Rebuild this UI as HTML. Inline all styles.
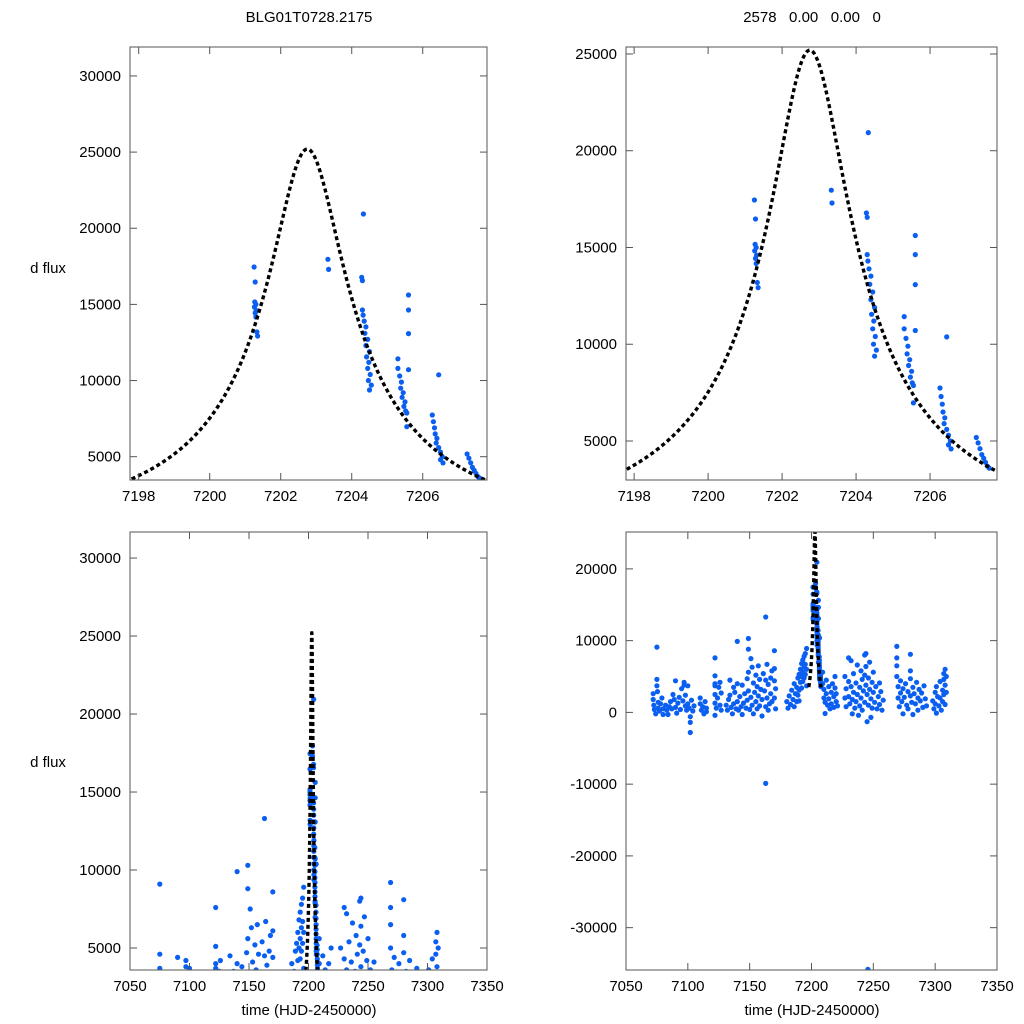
<!DOCTYPE html>
<html><head><meta charset="utf-8"><style>
html,body{margin:0;padding:0;background:#fff;width:1024px;height:1024px;overflow:hidden;position:relative;}
svg{position:absolute;left:0;top:0;overflow:hidden;font-family:"Liberation Sans",Arial,sans-serif;}
</style></head><body>
<svg id="chart" width="1024" height="1024" viewBox="0 0 1024 1024">
<text x="309" y="22" text-anchor="middle" font-size="15">BLG01T0728.2175</text>
<text x="812" y="22" text-anchor="middle" font-size="15" xml:space="preserve">2578   0.00   0.00   0</text>
<text x="48" y="273" text-anchor="middle" font-size="15">d flux</text>
<text x="48" y="767" text-anchor="middle" font-size="15">d flux</text>
<text x="309" y="1015" text-anchor="middle" font-size="15">time (HJD-2450000)</text>
<text x="812" y="1015" text-anchor="middle" font-size="15">time (HJD-2450000)</text>
</svg>
<script>
// ---- data ----
const peakObs = [
[7201.25,17455],[7201.28,16470],[7201.27,15160],[7201.3,15000],[7201.26,14830],[7201.31,14600],[7201.28,14435],[7201.3,14170],[7201.33,13190],[7201.35,12925],
[7203.33,17960],[7203.35,17300],
[7204.33,20935],[7204.28,16780],[7204.3,16560],[7204.3,14630],[7204.32,14300],[7204.35,13900],[7204.4,13520],[7204.37,13100],[7204.45,12700],[7204.4,12300],[7204.5,11900],[7204.42,11550],[7204.48,11200],[7204.45,10800],[7204.52,10400],[7204.47,10000],[7204.55,9700],[7204.5,9380],
[7205.3,11430],[7205.3,10800],[7205.35,10300],[7205.4,9900],[7205.38,9500],[7205.45,9200],[7205.42,8900],[7205.5,8600],[7205.47,8300],[7205.52,8000],[7205.55,7870],[7205.55,6970],
[7205.6,15620],[7205.6,14630],[7205.6,13080],[7205.6,10710],
[7206.45,10380],[7206.27,7740],[7206.3,7300],[7206.33,6900],[7206.35,6500],[7206.4,6200],[7206.38,5900],[7206.45,5600],[7206.5,5300],[7206.55,5000],[7206.5,4800],[7206.57,4590],
[7207.25,5180],[7207.3,4900],[7207.35,4600],[7207.4,4300],[7207.45,4100],[7207.5,3900],[7207.55,3700],[7207.6,3600]
];
const earlyObs = [
[7072,2600],[7072,1800],[7072.5,1000],[7073,400],[7074,-200],[7075,9100],[7075,4600],[7075,3700],[7075.5,2900],[7076,1400],[7076,600],[7077,200],[7078,1200],[7079,2000],[7080,500],[7080,-300],
[7082,1000],[7083,300],[7084,-300],[7085,800],[7086,1500],[7087,500],[7088,2500],[7089,1800],[7090,4400],[7090,700],[7091,-100],[7092,1300],[7093,2100],[7094,400],[7095,3300],[7096,1600],[7097,4200],[7097,3800],[7098,2400],[7098,900],[7099,300],[7100,1200],[7100,3700],[7101,600],[7102,-1400],[7102,-2800],[7102,-600],[7103,1700],[7104,200],[7105,900],
[7110,2000],[7110,1200],[7111,300],[7112,800],[7113,-200],[7114,1500],[7115,600],[7115,100],
[7122,7600],[7122,5100],[7122,4000],[7122,3700],[7122,2500],[7122,1300],[7122,-400],[7123,600],[7124,2000],[7125,3500],[7126,4200],[7126,1000],[7127,300],[7127,2700],
[7131,1000],[7132,300],[7133,1800],[7134,4500],[7134,2400],[7135,700],[7136,-200],[7137,3500],[7137,1200],[7138,2800],[7139,500],[7140,9900],[7140,4000],[7140,1500],[7141,300],[7142,2200],[7143,800],[7144,3800],[7144,-300],[7145,1300],[7146,2600],[7147,600],[7148,4700],[7148,1700],[7149,10300],[7149,8800],[7149,5600],[7149,3000],[7150,400],[7151,7500],[7151,2100],[7152,6300],[7152,1000],[7153,4100],[7153,-200],[7154,2800],[7155,5200],[7155,1500],[7156,3600],[7156,500],[7157,6500],[7157,2300],[7158,4600],[7158,900],[7159,3200],[7160,-500],[7160,1800],[7161,5400],[7162,3000],[7163,13300],[7163,4500],[7163,800],[7163,-9900],[7164,6700],[7164,2000],[7165,3900],[7165,300],[7166,1200],[7167,4800],[7167,2600],[7168,5800],[7168,1500],[7170,8600],[7170,4400],[7170,6100],[7170,2000],[7171,3300],[7171,500],
[7180,1500],[7181,600],[7182,2300],[7183,1100],[7184,3100],[7185,1800],[7186,4000],[7186,800],[7187,2600],[7188,3500],[7188,1500],[7189,4800],[7189,2400],[7190,5300],[7190,3100],[7190,1600],[7191,6000],[7191,4200],[7192,6800],[7192,5000],[7192,3400],[7193,7300],[7193,5600],[7193,4300],[7194,7800],[7194,6300],[7194,4800],[7195,8200],[7195,6700],[7195,5300],[7196,8900],[7196,6000],[7196,3700]
];
const lateObs = [
[7209,5600],[7209,4000],[7210,3200],[7210,2000],[7211,1400],[7211,-150],[7212,4500],[7212,2600],[7213,1000],[7214,3600],[7214,1900],[7215,500],[7216,2800],[7216,1200],[7217,4000],[7218,2200],[7218,700],[7219,5000],[7219,3400],[7220,1500],[7220,2600],[7221,900],
[7227,2000],[7227,5000],[7228,3300],[7228,800],[7230,7600],[7230,4300],[7230,2200],[7231,1200],[7232,7200],[7232,3600],[7233,-200],[7233,1800],[7234,5400],[7234,2800],[7235,600],[7236,4100],[7236,1500],[7237,6600],[7237,2500],[7238,-400],[7239,3500],[7239,900],[7240,5800],[7240,2000],[7241,4600],[7241,300],[7242,3000],[7243,8000],[7243,5200],[7243,1400],[7244,8200],[7244,6400],[7244,3800],[7245,2500],[7245,-1300],[7245.6,-35800],[7246,4800],[7246,1000],[7247,7000],[7247,3200],[7248,1900],[7248,-700],[7249,4200],[7249,600],[7250,5600],[7250,2800],[7251,1400],[7252,3600],[7253,500],[7254,2200],[7255,4100],[7255,1100],[7256,2900],[7257,300],[7258,1700],
[7269,9200],[7269,7600],[7269,6500],[7269,5000],[7270,3600],[7270,2000],[7271,800],[7272,4400],[7272,2700],[7273,1500],[7274,3300],[7274,-200],[7275,2100],[7276,4000],[7277,1000],[7278,2900],[7278,500],[7280,8100],[7280,5800],[7280,4700],[7280,2300],[7281,1400],[7282,3500],[7282,-300],[7283,2600],[7284,1200],[7285,4200],[7286,2000],[7286,300],[7287,3200],[7288,1600],[7289,2700],[7290,700],[7291,3700],[7292,1900],[7293,900],
[7298,1600],[7299,500],[7300,2800],[7300,1200],[7301,3600],[7301,-100],[7302,2200],[7303,900],[7304,4300],[7304,2000],[7305,300],[7306,3100],[7306,1500],[7307,5400],[7307,4600],[7307,2500],[7308,6000],[7308,3800],[7308,1100],[7309,5000],[7309,2800]
];
const modelParams = [7202.75, 0.1, 10.6, 2788]; // t0, u0, tE, source flux
const topXTicks = [7198,7200,7202,7204,7206];
const botXTicks = [7050,7100,7150,7200,7250,7300,7350];
const tlYTicks = [5000,10000,15000,20000,25000,30000];
const trYTicks = [5000,10000,15000,20000,25000];
const blYTicks = [5000,10000,15000,20000,25000,30000];
const brYTicks = [-30000,-20000,-10000,0,10000,20000];

// ---- drawing ----
const NS = "http://www.w3.org/2000/svg";
const svg = document.getElementById('chart');
function mk(tag, attrs, parent){ const e=document.createElementNS(NS,tag); for(const k in attrs) e.setAttribute(k,attrs[k]); (parent||svg).appendChild(e); return e; }
function model(t){
  const [t0,u0,tE,fs]=modelParams;
  const x=(t-t0)/tE, u=Math.sqrt(u0*u0+x*x);
  const A=(u*u+2)/(u*Math.sqrt(u*u+4));
  return fs*(A-1);
}
const panels = [
 {id:'top-left', x0:130,x1:487,y0:47,y1:480, tmin:7197.755,tmax:7207.81, vmin:3470,vmax:31900, xt:topXTicks, yt:tlYTicks},
 {id:'top-right', x0:626,x1:997,y0:47,y1:480, tmin:7197.78,tmax:7207.81, vmin:2985,vmax:25360, xt:topXTicks, yt:trYTicks},
 {id:'bottom-left', x0:130,x1:487,y0:532,y1:970, tmin:7050,tmax:7350, vmin:3590,vmax:31670, xt:botXTicks, yt:blYTicks},
 {id:'bottom-right', x0:626,x1:997,y0:532,y1:970, tmin:7050,tmax:7350, vmin:-35900,vmax:25140, xt:botXTicks, yt:brYTicks}
];
const allObs = earlyObs.concat(peakObs, lateObs);
panels.forEach(p=>{
  const sx=t=>p.x0+(t-p.tmin)/(p.tmax-p.tmin)*(p.x1-p.x0);
  const sy=v=>p.y1-(v-p.vmin)/(p.vmax-p.vmin)*(p.y1-p.y0);
  const g=mk('g',{});
  
  
  const cp=mk('clipPath',{id:'clip-'+p.id},g);
  mk('rect',{x:p.x0,y:p.y0,width:p.x1-p.x0,height:p.y1-p.y0},cp);
  const pts=mk('g',{'clip-path':'url(#clip-'+p.id+')'},g);
  
  
  allObs.forEach(o=>{
    if(o[0]<p.tmin||o[0]>p.tmax) return;
    const c=mk('circle',{cx:sx(o[0]).toFixed(1),cy:sy(o[1]).toFixed(1),r:2.6,fill:'#0a5ef0'},pts);
    
    
  });
  let d='';
  const ta=Math.max(p.tmin,7197.8), tb=Math.min(p.tmax,7207.75);
  for(let i=0;i<=600;i++){ const t=ta+(tb-ta)*i/600; d+=(i?'L':'M')+sx(t).toFixed(2)+' '+sy(model(t)).toFixed(2); }
  const curve=mk('path',{d:d,fill:'none',stroke:'#000','stroke-width':3.4,'stroke-dasharray':'4 3','clip-path':'url(#clip-'+p.id+')'},g);
  
  
  const fr=mk('rect',{x:p.x0,y:p.y0,width:p.x1-p.x0,height:p.y1-p.y0,fill:'none',stroke:'#555','stroke-width':1},g);
  
  
  p.xt.forEach(t=>{
    const x=sx(t);
    mk('line',{x1:x,y1:p.y1,x2:x,y2:p.y1-7,stroke:'#555'},g);
    mk('line',{x1:x,y1:p.y0,x2:x,y2:p.y0+7,stroke:'#555'},g);
    const tx=mk('text',{x:x,y:p.y1+21,'text-anchor':'middle','font-size':15},g);
    tx.textContent=t;
    
    
  });
  p.yt.forEach(v=>{
    const y=sy(v);
    mk('line',{x1:p.x0,y1:y,x2:p.x0+7,y2:y,stroke:'#555'},g);
    mk('line',{x1:p.x1,y1:y,x2:p.x1-7,y2:y,stroke:'#555'},g);
    const ty=mk('text',{x:p.x0-9,y:y+5,'text-anchor':'end','font-size':15},g);
    ty.textContent=v;
    
    
  });
});
</script>
</body></html>
